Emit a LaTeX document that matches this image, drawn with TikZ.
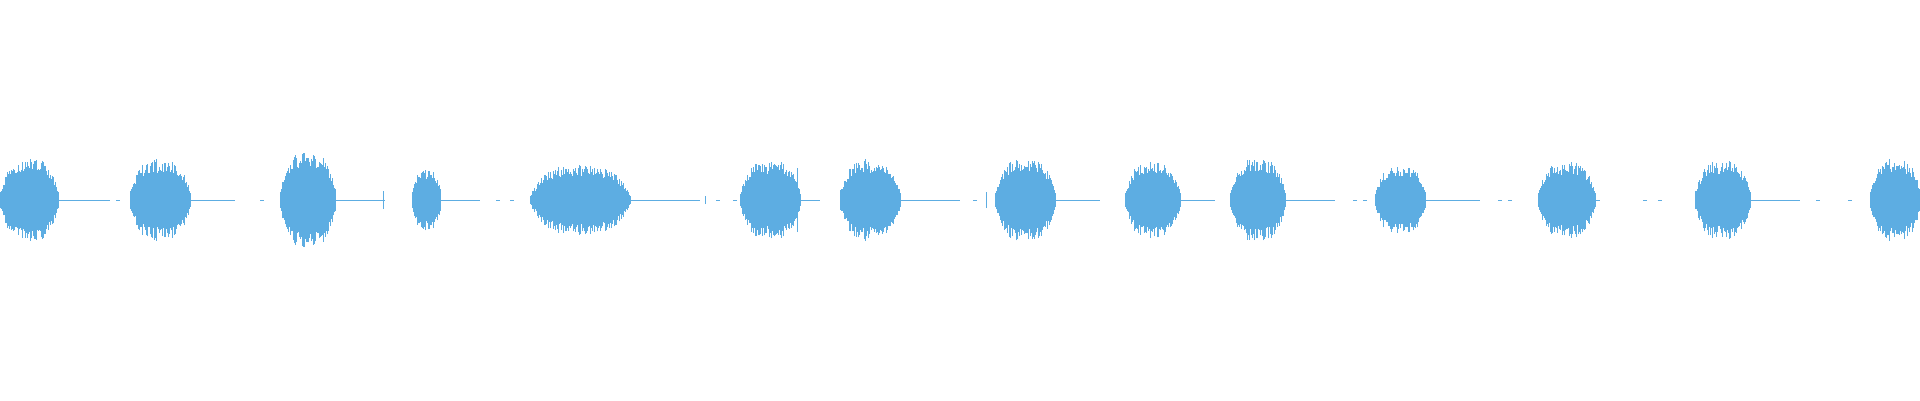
\documentclass[tikz,border=0pt]{standalone}
\usetikzlibrary{positioning}
\definecolor{wavecol}{RGB}{93,173,226}

\begin{document}
\begin{tikzpicture}[x=1pt,y=1pt,
	wave/.style={wavecol,line width=0.8pt},
	tail/.style={wavecol,line width=0.8pt}]

	\useasboundingbox (0,0) rectangle (1920,400);
	\pgfmathsetseed{7}

	% bursts: start/end/amplitude/tail end
	\foreach \bs/\be/\ba/\bt in {0/58/40/110, 130/190/40/235, 280/335/48/385,
		412/440/30/480, 530/630/34/700, 740/800/38/820, 840/900/40/960,
		995/1055/40/1100, 1125/1180/38/1215, 1230/1285/40/1335,
		1375/1425/33/1480, 1538/1595/37/1600, 1695/1750/38/1800, 1870/1920/40/1920}{
		\foreach \px in {\bs,...,\be}{
			\pgfmathsetmacro{\env}{max(sin(180/(\be-\bs+4)*(\px-\bs+2)),0)}
			\pgfmathsetmacro{\amp}{\ba*(1-(1-\env)*(1-\env))*(0.65+0.35*rnd)+1}
			\draw[wave] (\px,200-\amp) -- (\px,200+\amp);
		}
		\draw[tail] (\be,200) -- (\bt,200);
	}

	% onset spikes and stray marks
	\foreach \px/\ht in {130/9, 283/8, 383/9, 746/9, 797/32, 840/10, 986/8, 1378/8, 1540/9, 1695/9, 1872/9, 705/4}{
		\draw[wave] (\px,200-\ht) -- (\px,200+\ht);
	}
	\foreach \px in {118,262,498,512,718,735,975,1235,1355,1365,1500,1510,1645,1660,1818,1850}{
		\draw[tail] (\px-2,200) -- (\px+2,200);
	}
\end{tikzpicture}
\end{document}
